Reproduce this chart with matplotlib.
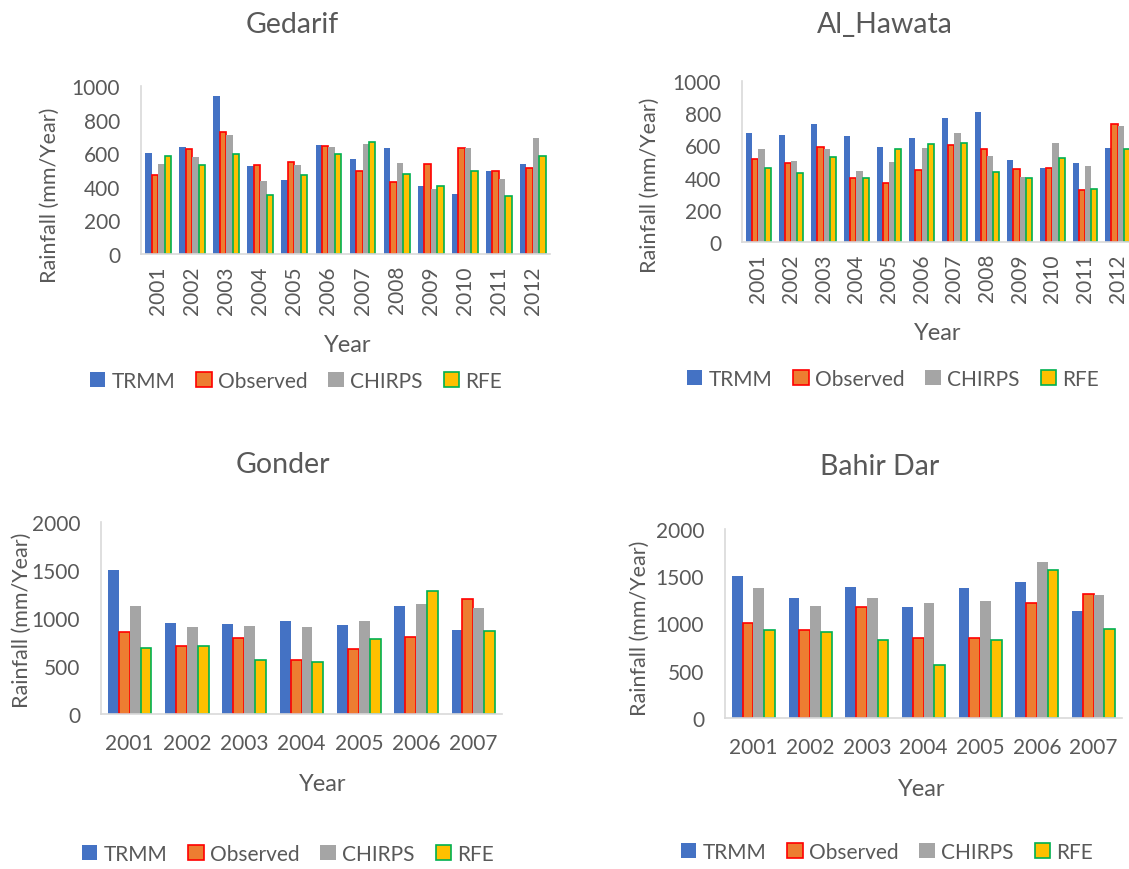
import numpy as np
import matplotlib.pyplot as plt
from matplotlib.patches import Patch

plt.rcParams['font.family'] = ['Lato', 'DejaVu Sans']

# data
series = ['TRMM', 'Observed', 'CHIRPS', 'RFE']

years_a = ['2001', '2002', '2003', '2004', '2005', '2006',
           '2007', '2008', '2009', '2010', '2011', '2012']
years_b = ['2001', '2002', '2003', '2004', '2005', '2006', '2007']

gedarif_trmm = [604, 635, 942, 525, 438, 649, 567, 632, 404, 359, 494, 535]
gedarif_obs = [470, 626, 724, 529, 547, 645, 496, 429, 537, 631, 495, 512]
gedarif_chirps = [537, 575, 706, 433, 529, 639, 655, 540, 384, 633, 449, 690]
gedarif_rfe = [586, 527, 594, 353, 472, 598, 669, 476, 404, 492, 345, 582]

hawata_trmm = [680, 662, 732, 657, 587, 649, 768, 810, 508, 457, 488, 581]
hawata_obs = [517, 492, 589, 399, 366, 446, 604, 579, 455, 457, 320, 733]
hawata_chirps = [575, 502, 577, 442, 498, 583, 680, 537, 403, 614, 469, 722]
hawata_rfe = [457, 426, 527, 397, 575, 606, 618, 434, 397, 519, 330, 575]

gonder_trmm = [1503, 953, 936, 967, 932, 1120, 877]
gonder_obs = [859, 713, 790, 567, 678, 803, 1203]
gonder_chirps = [1130, 908, 915, 904, 967, 1144, 1099]
gonder_rfe = [689, 713, 563, 543, 779, 1277, 866]

bahir_trmm = [1505, 1268, 1385, 1177, 1374, 1438, 1134]
bahir_obs = [1004, 933, 1173, 845, 845, 1215, 1311]
bahir_chirps = [1371, 1184, 1275, 1219, 1240, 1646, 1304]
bahir_rfe = [930, 905, 824, 563, 824, 1561, 937]

faces = ['#4472C4', '#ED7D31', '#A5A5A5', '#FFC000']
edges = ['#4472C4', '#FF0000', '#A5A5A5', '#00B050']
txt = '#595959'

W, H = 1129, 870
fig = plt.figure(figsize=(W / 100, H / 100), dpi=100)


def px(x, y):
    return x / W, 1 - y / H


def panel(left, right, top, bottom, years, data, ymax, ystep, rot,
          title, title_xy, ylab_xy, year_xy, leg_xy, xpad):
    ax = fig.add_axes([left / W, 1 - bottom / H, (right - left) / W, (bottom - top) / H])
    n = len(years)
    x = np.arange(n)
    w = 0.19
    for i, vals in enumerate(data):
        lw = 1.2 if i in (1, 3) else 0
        ax.bar(x + (i - 1.5) * w, vals, width=w, color=faces[i],
               edgecolor=edges[i], linewidth=lw, zorder=2)
    ax.set_xlim(-0.5, n - 0.5)
    ax.set_ylim(0, ymax)
    ax.set_yticks(np.arange(0, ymax + 1, ystep))
    ax.set_xticks(x)
    ax.set_xticklabels(years, rotation=rot)
    ax.tick_params(axis='y', length=0, pad=15, labelsize=15, labelcolor=txt)
    ax.tick_params(axis='x', length=0, pad=xpad, labelsize=15, labelcolor=txt)
    for s in ['top', 'right']:
        ax.spines[s].set_visible(False)
    for s in ['left', 'bottom']:
        ax.spines[s].set_color('#D9D9D9')
        ax.spines[s].set_linewidth(1.2)
    fx, fy = px(*title_xy)
    fig.text(fx, fy, title, fontsize=20.5, color=txt, ha='center', va='center')
    fx, fy = px(*ylab_xy)
    fig.text(fx, fy, 'Rainfall (mm/Year)', fontsize=15.5, color=txt,
             ha='center', va='center', rotation=90)
    fx, fy = px(*year_xy)
    fig.text(fx, fy, 'Year', fontsize=17, color=txt, ha='center', va='center')
    handles = [Patch(facecolor=faces[i], edgecolor=edges[i],
                     linewidth=1.2 if i in (1, 3) else 0, label=series[i])
               for i in range(4)]
    fx, fy = px(*leg_xy)
    fig.legend(handles=handles, loc='center', bbox_to_anchor=(fx, fy), ncol=4,
               frameon=False, fontsize=15, labelcolor=txt, handlelength=0.75,
               handleheight=0.75, handletextpad=0.3, columnspacing=1.0)
    return ax


panel(141, 550, 87, 255, years_a,
      [gedarif_trmm, gedarif_obs, gedarif_chirps, gedarif_rfe],
      1000, 200, 90, 'Gedarif', (292, 25), (50, 195), (348, 345), (296, 382), 8)

panel(742, 1134, 82, 243, years_a,
      [hawata_trmm, hawata_obs, hawata_chirps, hawata_rfe],
      1000, 200, 90, 'Al_Hawata', (885, 25), (650, 185), (938, 333), (893, 380), 8)

panel(101, 502, 523, 715, years_b,
      [gonder_trmm, gonder_obs, gonder_chirps, gonder_rfe],
      2000, 500, 0, 'Gonder', (283, 465), (22, 620), (323, 785), (288, 855), 14)

panel(725, 1122, 530, 719, years_b,
      [bahir_trmm, bahir_obs, bahir_chirps, bahir_rfe],
      2000, 500, 0, 'Bahir Dar', (880, 467), (640, 628), (922, 790), (887, 853), 14)

fig.savefig('out.png', dpi=100)
